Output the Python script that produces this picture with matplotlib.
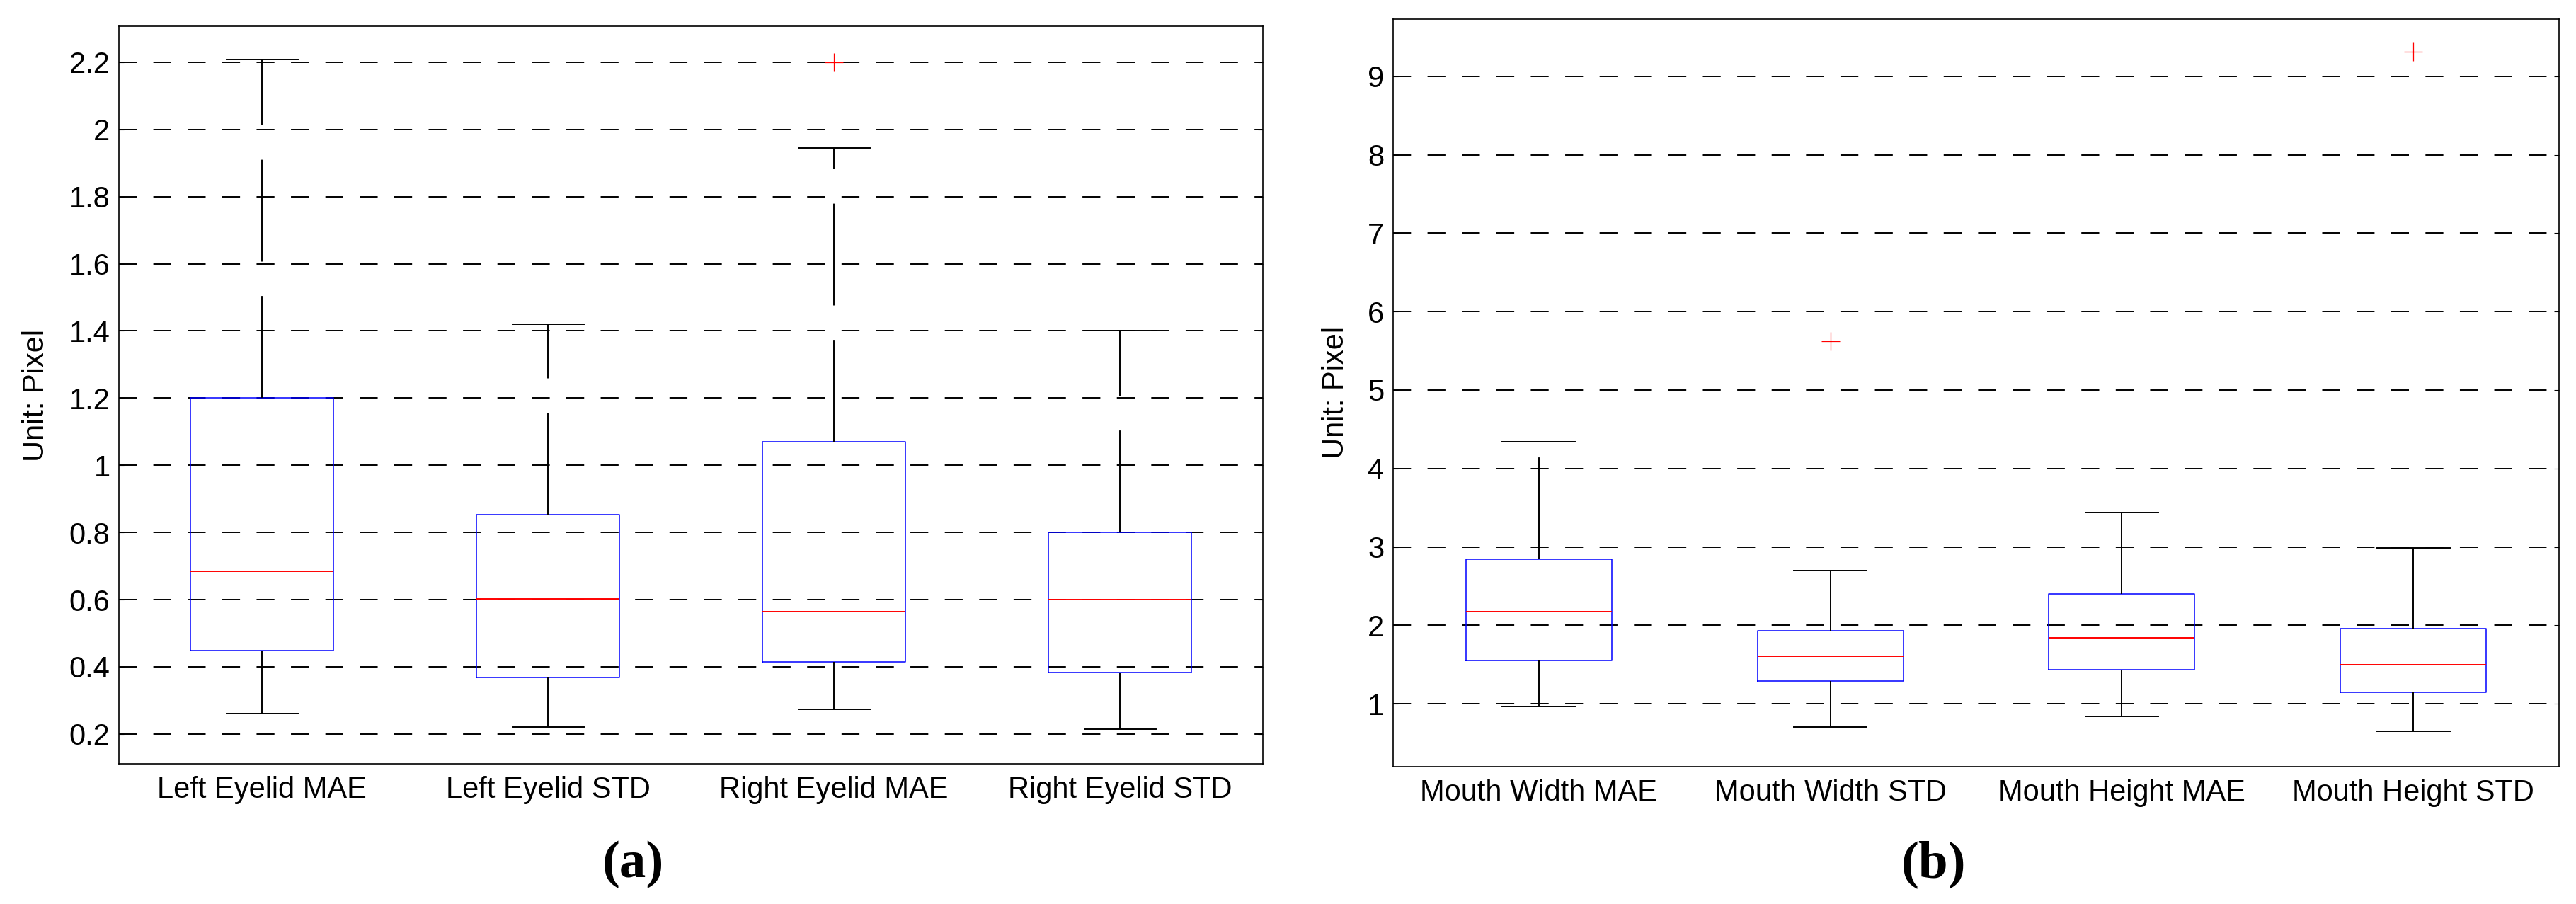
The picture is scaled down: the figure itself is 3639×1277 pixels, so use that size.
import matplotlib
matplotlib.use("Agg")
import matplotlib.pyplot as plt

""" Box plots of eyelid and mouth errors, two panels. """

plt.rcParams['font.family'] = ['Liberation Sans', 'DejaVu Sans']

# panel (a): eyelid errors
eye_labels = ["Left Eyelid MAE", "Left Eyelid STD", "Right Eyelid MAE", "Right Eyelid STD"]
eye_whislo = [0.260, 0.221, 0.274, 0.214]
eye_q1 = [0.449, 0.368, 0.414, 0.384]
eye_med = [0.685, 0.603, 0.564, 0.600]
eye_q3 = [1.200, 0.853, 1.070, 0.800]
eye_whishi = [2.209, 1.420, 1.944, 1.400]
eye_fliers = [[], [], [2.20], []]
eye_ticks = [0.2, 0.4, 0.6, 0.8, 1.0, 1.2, 1.4, 1.6, 1.8, 2.0, 2.2]
eye_ticklabels = ["0.2", "0.4", "0.6", "0.8", "1", "1.2", "1.4", "1.6", "1.8", "2", "2.2"]

# panel (b): mouth errors
mouth_labels = ["Mouth Width MAE", "Mouth Width STD", "Mouth Height MAE", "Mouth Height STD"]
mouth_whislo = [0.969, 0.705, 0.844, 0.646]
mouth_q1 = [1.550, 1.292, 1.432, 1.146]
mouth_med = [2.174, 1.608, 1.843, 1.498]
mouth_q3 = [2.843, 1.932, 2.402, 1.961]
mouth_whishi = [4.342, 2.696, 3.438, 2.990]
mouth_fliers = [[], [5.62], [], [9.316]]
mouth_ticks = [1, 2, 3, 4, 5, 6, 7, 8, 9]
mouth_ticklabels = ["1", "2", "3", "4", "5", "6", "7", "8", "9"]


def make_stats(labels, lo, q1, med, q3, hi, fl):
    stats = []
    for i in range(len(labels)):
        stats.append({"label": labels[i], "whislo": lo[i], "q1": q1[i], "med": med[i],
                      "q3": q3[i], "whishi": hi[i], "fliers": fl[i]})
    return stats


def draw_panel(ax, stats, ticks, ticklabels, ylim, label_x):
    ax.bxp(stats, positions=[1, 2, 3, 4], widths=0.5, showfliers=True,
           boxprops=dict(color="#0000ff", linewidth=1.1),
           medianprops=dict(color="#ff0000", linewidth=1.4),
           whiskerprops=dict(color="black", linewidth=1.4, linestyle=(0, (74, 25))),
           capprops=dict(color="black", linewidth=1.4),
           flierprops=dict(marker="+", markeredgecolor="#ff0000", markersize=19,
                           markeredgewidth=0.9, linestyle="none"))
    ax.set_xlim(0.5, 4.5)
    ax.set_ylim(*ylim)
    ax.set_yticks(ticks)
    ax.set_yticklabels(ticklabels)
    for t in ticks:
        ax.axhline(t, color="black", linewidth=1.4, linestyle=(0, (13, 12)), zorder=0)
    ax.tick_params(axis="y", direction="in", length=5, width=0.8, right=True,
                   labelsize=30, pad=9)
    ax.tick_params(axis="x", length=0, labelsize=30, pad=12)
    for s in ax.spines.values():
        s.set_linewidth(1.2)
    ax.set_ylabel("Unit: Pixel", fontsize=30)
    ax.yaxis.set_label_coords(label_x, 0.5)


fig = plt.figure(figsize=(36.39, 12.77), dpi=100)

ax1 = fig.add_axes([0.0462, 0.155, 0.4441, 0.816])
draw_panel(ax1, make_stats(eye_labels, eye_whislo, eye_q1, eye_med, eye_q3, eye_whishi, eye_fliers),
           eye_ticks, eye_ticklabels, (0.111, 2.307), -0.060)

ax2 = fig.add_axes([0.5408, 0.152, 0.4526, 0.827])
draw_panel(ax2, make_stats(mouth_labels, mouth_whislo, mouth_q1, mouth_med, mouth_q3, mouth_whishi, mouth_fliers),
           mouth_ticks, mouth_ticklabels, (0.2, 9.73), -0.037)

fig.text(0.2457, 0.044, "(a)", ha="center", va="center", fontsize=54, fontweight="bold",
         family=["Liberation Serif", "DejaVu Serif"])
fig.text(0.7505, 0.044, "(b)", ha="center", va="center", fontsize=54, fontweight="bold",
         family=["Liberation Serif", "DejaVu Serif"])

fig.savefig("out.png", dpi=100)
